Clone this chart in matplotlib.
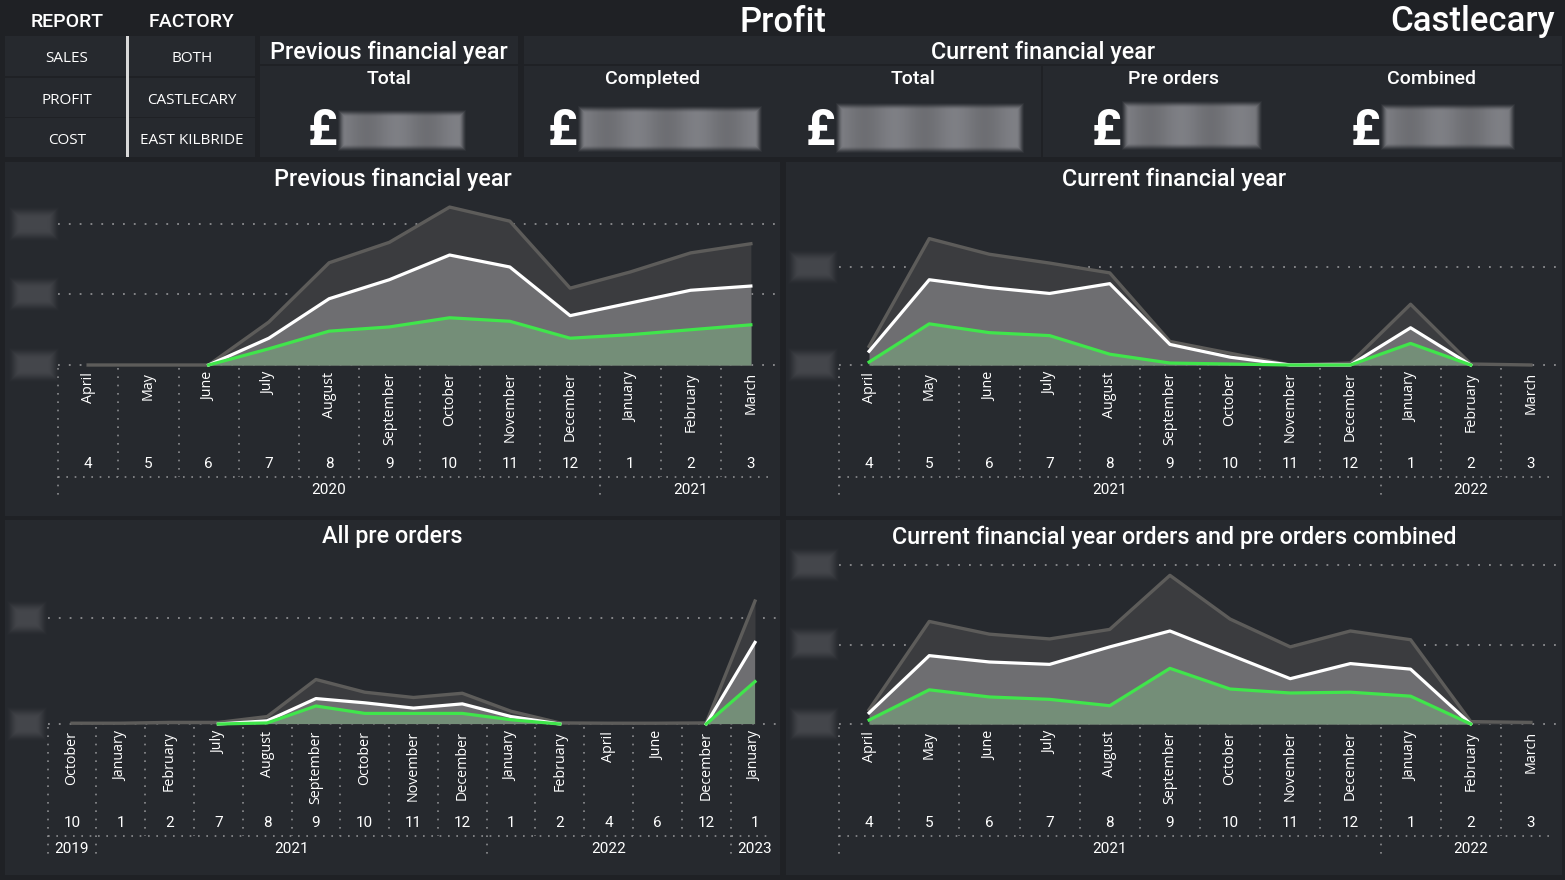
import numpy as np
import matplotlib
matplotlib.use("Agg")
import matplotlib.pyplot as plt
import matplotlib.transforms as mtransforms
from matplotlib.patches import Rectangle

nan = np.nan

# ---------------- data ----------------
fy_months = ["April", "May", "June", "July", "August", "September", "October",
             "November", "December", "January", "February", "March"]
fy_month_nums = [4, 5, 6, 7, 8, 9, 10, 11, 12, 1, 2, 3]
prev_years = [2020] * 9 + [2021] * 3
curr_years = [2021] * 9 + [2022] * 3

# Previous financial year (£k)
prev_total = [0, 0, 0, 61, 145, 174, 224, 204, 109, 132, 159, 172]
prev_mid = [nan, nan, 0, 38, 94, 121, 156, 139, 70, 88, 106, 112]
prev_low = [nan, nan, 0, 23, 48, 54, 67, 62, 38, 43, 50, 57]

# Current financial year (£k)
curr_total = [19, 129, 113, 104, 94, 24, 12, 0, 2, 62, 1, 0]
curr_mid = [14, 87, 79, 73, 83, 21, 8, 0, 0, 38, 0, nan]
curr_low = [3, 42, 33, 30, 11, 2, 1, 0, 0, 22, 0, nan]

# All pre orders (£k)
pre_months = ["October", "January", "February", "July", "August", "September",
              "October", "November", "December", "January", "February", "April",
              "June", "December", "January"]
pre_month_nums = [10, 1, 2, 7, 8, 9, 10, 11, 12, 1, 2, 4, 6, 12, 1]
pre_years = [2019, 2021, 2021, 2021, 2021, 2021, 2021, 2021, 2021,
             2022, 2022, 2022, 2022, 2022, 2023]
pre_total = [3, 3, 6, 6, 28, 168, 120, 100, 116, 48, 4, 3, 3, 4, 464]
pre_mid = [nan, nan, nan, 0, 12, 96, 80, 60, 76, 28, 0, nan, nan, 0, 308]
pre_low = [nan, nan, nan, 0, 4, 68, 40, 40, 40, 16, 0, nan, nan, 0, 160]

# Combined (£k)
comb_total = [18, 129, 113, 107, 119, 187, 132, 97, 117, 106, 3, 2]
comb_mid = [14, 86, 78, 75, 97, 117, 87, 57, 76, 69, 0, nan]
comb_low = [5, 43, 34, 31, 23, 70, 44, 39, 40, 35, 0, nan]

menu_report = ["SALES", "PROFIT", "COST"]
menu_factory = ["BOTH", "CASTLECARY", "EAST KILBRIDE"]
kpi_headers = ["Completed", "Total", "Pre orders", "Combined"]

# ---------------- style ----------------
W, H = 1565, 880
BG = "#1f2125"
PANEL = "#26292e"
GRID = "#8c8d90"
TXT = "#ffffff"
C_TOTAL_FILL = "#3b3c3f"
C_TOTAL_LINE = "#5d5c5a"
C_MID_FILL = "#6e6e71"
C_MID_LINE = "#ffffff"
C_LOW_FILL = "#748e78"
C_LOW_LINE = "#40e54b"
TITLE_FONT = ["Roboto", "DejaVu Sans"]
LABEL_FONT = ["Open Sans", "DejaVu Sans"]

fig = plt.figure(figsize=(W / 100, H / 100), dpi=100)
fig.patch.set_facecolor(BG)


def fxy(x, y):
    return x / W, 1 - y / H


def rect(x0, y0, x1, y1, color, z=0):
    fig.add_artist(Rectangle((x0 / W, 1 - y1 / H), (x1 - x0) / W, (y1 - y0) / H,
                             transform=fig.transFigure, facecolor=color,
                             edgecolor="none", zorder=z))


def text(x, y, s, size, family=TITLE_FONT, weight="normal", ha="center",
         va="center", color=TXT, **kw):
    X, Y = fxy(x, y)
    fig.text(X, Y, s, fontsize=size, family=family, weight=weight, ha=ha,
             va=va, color=color, **kw)


def soft_box(x0, y0, x1, y1, rgb, feather=7, alpha=1.0, texture=0.0, period=60.0):
    w, h = int(x1 - x0), int(y1 - y0)
    ax = fig.add_axes([x0 / W, 1 - y1 / H, (x1 - x0) / W, (y1 - y0) / H])
    ax.axis("off")
    xx = np.arange(w) + 0.5
    yy = np.arange(h) + 0.5
    dx = np.clip(np.minimum(xx, w - xx) / feather, 0, 1)
    dy = np.clip(np.minimum(yy, h - yy) / feather, 0, 1)
    a = np.minimum.outer(dy, dx)
    a = a * a * (3 - 2 * a)
    img = np.zeros((h, w, 4))
    base = np.array(rgb) / 255.0
    mod = 1 + texture * np.cos(2 * np.pi * xx / period)
    for k in range(3):
        img[..., k] = np.clip(base[k] * mod[None, :], 0, 1)
    img[..., 3] = a * alpha
    ax.imshow(img, extent=(0, w, 0, h), aspect="auto", interpolation="bilinear")
    ax.set_xlim(0, w)
    ax.set_ylim(0, h)


# ---------------- header ----------------
text(67, 22, "REPORT", 14, weight="medium")
text(192, 22, "FACTORY", 14, weight="medium")
text(783, 22, "Profit", 25, weight="medium")
text(1555, 22, "Castlecary", 25, weight="medium", ha="right")

# menu panel
rect(5, 36, 255, 157, PANEL)
for yy in (76, 117):
    rect(5, yy, 255, yy + 1.5, "#1f2125", z=1)
rect(126, 36, 128.5, 157, "#d9d9d9", z=2)
for i, (a, b) in enumerate(zip(menu_report, menu_factory)):
    yc = [58, 100, 140][i]
    text(67, yc, a, 11, family=LABEL_FONT)
    text(192, yc, b, 11, family=LABEL_FONT)

# KPI cards
rect(260, 36, 518, 157, PANEL)
rect(260, 64.5, 518, 66, BG, z=1)
text(389, 52, "Previous financial year", 16.8, weight="medium")
text(389, 79, "Total", 14, weight="medium")
text(322, 131, "£", 36, weight="bold")
soft_box(337, 109, 467, 152, (118, 119, 124), feather=8, texture=0.07)

rect(524, 36, 1562, 157, PANEL)
rect(524, 64.5, 1562, 66, BG, z=1)
rect(1041, 66, 1042.5, 157, BG, z=1)
text(1043, 52, "Current financial year", 16.8, weight="medium")
hx = [653, 913, 1173, 1431]
px = [562, 820, 1106, 1365]
boxes = [(577, 105, 763, 153), (835, 102, 1025, 154),
         (1121, 100, 1263, 151), (1380, 103, 1516, 151)]
for i, h_ in enumerate(kpi_headers):
    text(hx[i], 79, h_, 14, weight="medium")
    text(px[i], 131, "£", 36, weight="bold")
    soft_box(*boxes[i], (118, 119, 124), feather=8, texture=0.07)

# chart panels
panels = [(5, 162, 780, 516), (786, 162, 1562, 516),
          (5, 520, 780, 875), (786, 520, 1562, 875)]
for p in panels:
    rect(*p, PANEL)


def area_chart(title, title_y, months, nums, years, total, mid, low,
               left, right, base, top, step_px, step_val, ylab_x, ylab_w, panel):
    n = len(months)
    ytop = (base - top) / step_px * step_val
    ax = fig.add_axes([left / W, 1 - base / H, (right - left) / W, (base - top) / H])
    ax.set_xlim(-0.5, n - 0.5)
    ax.set_ylim(0, ytop)
    ax.axis("off")
    x = np.arange(n)
    # gridlines
    g = 0
    while g <= ytop:
        ax.axhline(g, color=GRID, lw=1.3, ls=(0, (1, 5)), zorder=1, clip_on=False)
        yp = base - g / step_val * step_px
        soft_box(ylab_x, yp - 18, ylab_x + ylab_w, yp + 18, (68, 70, 75), feather=12)
        g += step_val
    tot = np.array(total, float)
    md = np.array(mid, float)
    lo = np.array(low, float)
    ax.fill_between(x, 0, tot, color=C_TOTAL_FILL, lw=0, zorder=2)
    ax.fill_between(x, 0, md, color=C_MID_FILL, lw=0, zorder=3)
    ax.fill_between(x, 0, lo, color=C_LOW_FILL, lw=0, zorder=4)
    ax.plot(x, tot, color=C_TOTAL_LINE, lw=2.4, zorder=5, clip_on=False)
    ax.plot(x, md, color=C_MID_LINE, lw=2.3, zorder=6, clip_on=False)
    ax.plot(x, lo, color=C_LOW_LINE, lw=2.3, zorder=7, clip_on=False)

    # title
    cx = (panel[0] + panel[2]) / 2
    text(cx, title_y, title, 16.8, weight="medium")

    tr = mtransforms.blended_transform_factory(ax.transData, fig.transFigure)

    def fy(y):
        return 1 - y / H

    dot = dict(color=GRID, lw=1.2, ls=(0, (1, 4)), transform=tr, clip_on=False)
    # category bands
    for i in range(n):
        ax.text(i, fy(base + 7), months[i], rotation=90, ha="center", va="top",
                fontsize=10.3, family=LABEL_FONT, color=TXT, transform=tr)
        ax.text(i, fy(base + 99), str(nums[i]), ha="center", va="center",
                fontsize=11, family=TITLE_FONT, color=TXT, transform=tr)
    for i in range(n):
        b = i - 0.5
        if i == 0 or years[i] != years[i - 1]:
            ax.plot([b, b], [fy(base + 3), fy(base + 136)], **dot)
        else:
            ax.plot([b, b], [fy(base + 3), fy(base + 112)], **dot)
    ax.plot([-0.5, n - 0.7], [fy(base + 112), fy(base + 112)], **dot)
    # years
    start = 0
    for i in range(1, n + 1):
        if i == n or years[i] != years[start]:
            ax.text((start + i - 1) / 2, fy(base + 125), str(years[start]),
                    ha="center", va="center", fontsize=11, family=TITLE_FONT,
                    color=TXT, transform=tr)
            start = i


area_chart("Previous financial year", 179, fy_months, fy_month_nums, prev_years,
           prev_total, prev_mid, prev_low, 58, 781, 365, 200, 70.5, 100, 8, 52,
           panels[0])
area_chart("Current financial year", 179, fy_months, fy_month_nums, curr_years,
           curr_total, curr_mid, curr_low, 839, 1561, 365, 200, 98, 100, 787, 52,
           panels[1])
area_chart("All pre orders", 537, pre_months, pre_month_nums, pre_years,
           pre_total, pre_mid, pre_low, 47.6, 779.4, 724, 560, 106, 400, 6, 42,
           panels[2])
area_chart("Current financial year orders and pre orders combined", 537,
           fy_months, fy_month_nums, curr_years, comb_total, comb_mid, comb_low,
           839, 1561, 724, 555, 79.5, 100, 788, 52, panels[3])

fig.savefig("out.png", dpi=100, facecolor=BG)
